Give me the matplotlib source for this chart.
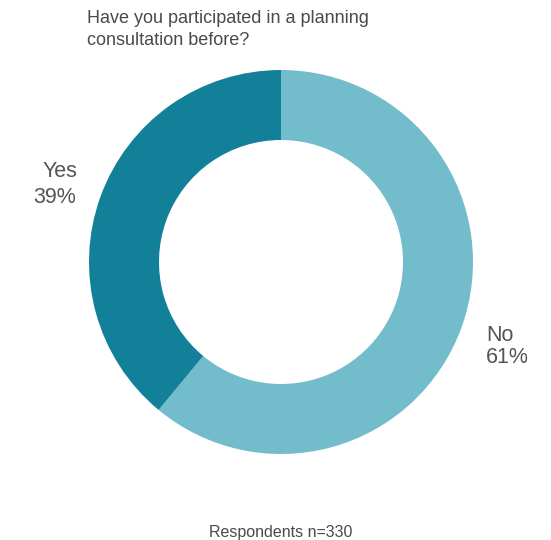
import matplotlib.pyplot as plt

# data
labels = ['No', 'Yes']
shares = [61, 39]
colours = ['#72bccb', '#13809a']
title_lines = ['Have you participated in a planning', 'consultation before?']
note = 'Respondents n=330'

W, H = 551, 540
plt.rcParams['font.family'] = ['Liberation Sans', 'DejaVu Sans']

fig = plt.figure(figsize=(W / 100, H / 100), dpi=100)
ax = fig.add_axes([0, 0, 1, 1])

cx, cy, r = 281, H - 262, 192
ax.pie(shares, colors=colours, startangle=90, counterclock=False,
       center=(cx, cy), radius=r, frame=True,
       wedgeprops=dict(width=70, linewidth=0))
ax.set_xlim(0, W)
ax.set_ylim(0, H)
ax.set_aspect('equal')
ax.axis('off')

# title, one line at a time (baselines in pixels from top)
for line, yb in zip(title_lines, [23, 45]):
    ax.text(87, H - yb, line, ha='left', va='baseline', fontsize=13,
            color='#4a4a4a')

# labels beside the ring
lab_style = dict(va='baseline', fontsize=15.5, color='#555555')
ax.text(77, H - 177, labels[1], ha='right', **lab_style)
ax.text(76, H - 203, '%d%%' % shares[1], ha='right', **lab_style)
ax.text(486, H - 341, labels[0], ha='left', **lab_style)
ax.text(486, H - 363, '%d%%' % shares[0], ha='left', **lab_style)

ax.text(cx, H - 532, note, ha='center', va='center', fontsize=11.5,
        color='#4a4a4a')

fig.savefig('out.png', dpi=100)
